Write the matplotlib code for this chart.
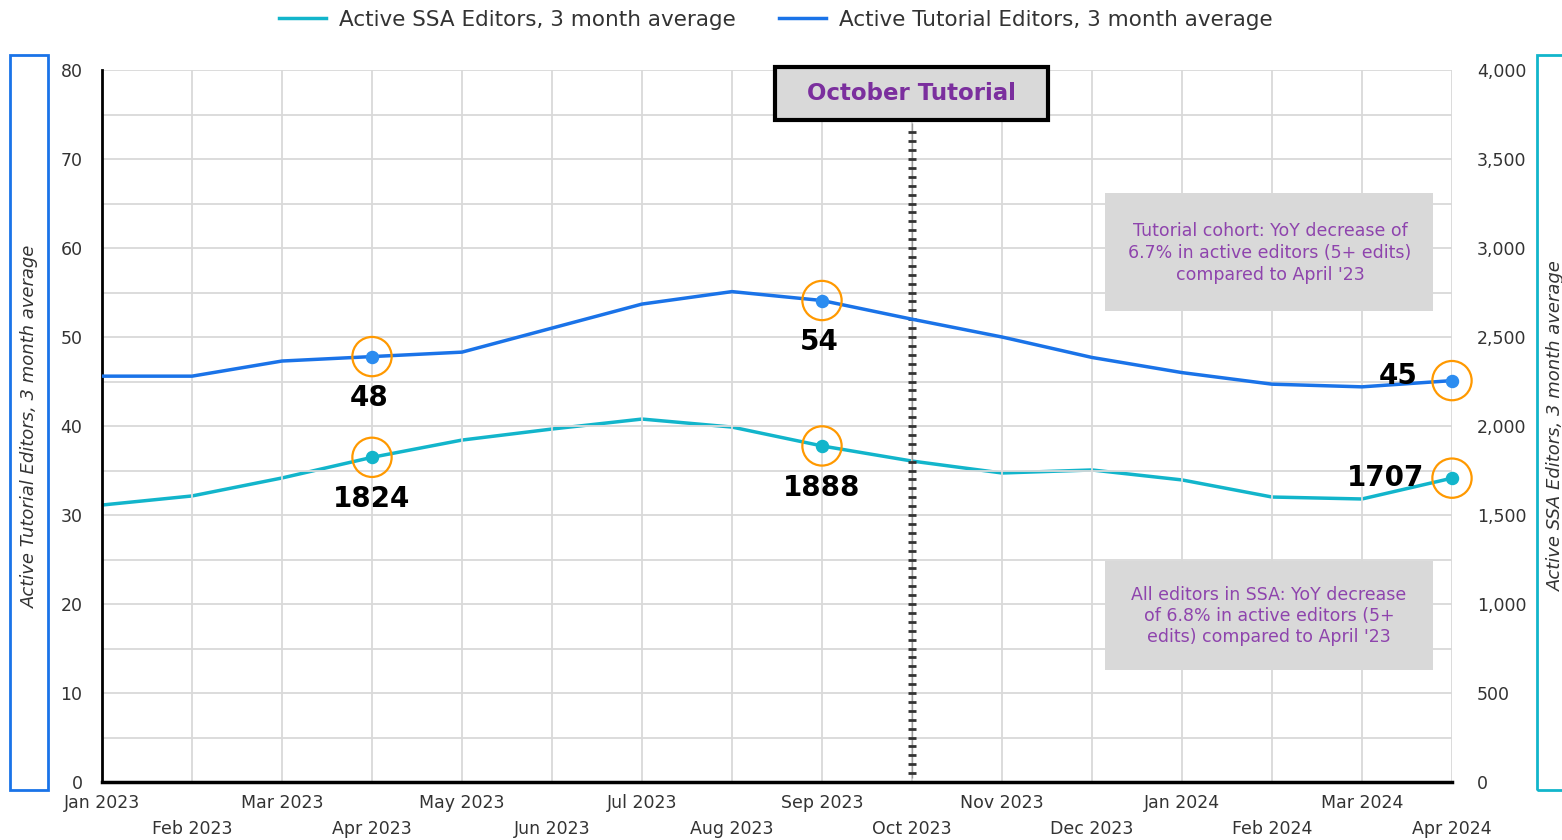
import matplotlib
matplotlib.use("Agg")
import matplotlib.pyplot as plt
import numpy as np
from matplotlib.ticker import MultipleLocator, FuncFormatter
from matplotlib.patches import Rectangle

plt.rcParams['font.family'] = ['DejaVu Sans']

months = ["Jan 2023", "Feb 2023", "Mar 2023", "Apr 2023", "May 2023", "Jun 2023",
          "Jul 2023", "Aug 2023", "Sep 2023", "Oct 2023", "Nov 2023", "Dec 2023",
          "Jan 2024", "Feb 2024", "Mar 2024", "Apr 2024"]
tutorial = [45.6, 45.6, 47.3, 47.8, 48.3, 51.0, 53.7, 55.1, 54.1, 52.0, 50.0, 47.7,
            46.0, 44.7, 44.4, 45.1]
ssa = [1556, 1607, 1708, 1824, 1921, 1983, 2039, 1994, 1888, 1803, 1736, 1753,
       1697, 1601, 1590, 1707]
highlight_idx = [3, 8, 15]
tut_labels = ["48", "54", "45"]
ssa_labels = ["1824", "1888", "1707"]

C_TUT = "#1a73e8"
C_SSA = "#12b5cb"
C_ORANGE = "#ff9900"
C_PURPLE = "#8e44ad"
C_GRID = "#d9d9d9"

fig = plt.figure(figsize=(15.62, 8.4), dpi=100)
ax = fig.add_axes([102/1562, 1-782/840, 1350/1562, 712/840])
ax2 = ax.twinx()

x = np.arange(len(months))
ax.set_xlim(0, len(months)-1)
ax.set_ylim(0, 80)
ax2.set_ylim(0, 4000)

ax.yaxis.set_major_locator(MultipleLocator(10))
ax.yaxis.set_minor_locator(MultipleLocator(5))
ax2.yaxis.set_major_locator(MultipleLocator(500))
ax2.yaxis.set_major_formatter(FuncFormatter(lambda v, p: f"{int(v):,}"))
ax.set_xticks(x)
ax.set_xticklabels([m if i % 2 == 0 else "\n" + m for i, m in enumerate(months)],
                   linespacing=1.55)
ax.grid(True, which='both', color=C_GRID, linewidth=1.3)
ax.set_axisbelow(True)
ax.tick_params(axis='both', which='both', length=0, labelsize=12.5, colors="#333333", pad=14)
ax.tick_params(axis='x', pad=9)
ax2.tick_params(axis='y', length=0, labelsize=12.5, colors="#333333", pad=18)

for s in ['top', 'right']:
    ax.spines[s].set_visible(False)
for s in ['top', 'right', 'left', 'bottom']:
    ax2.spines[s].set_visible(False)
ax.spines['left'].set_color('black')
ax.spines['left'].set_linewidth(2)
ax.spines['bottom'].set_color('black')
ax.spines['bottom'].set_linewidth(2.5)

# Vertical marker line at October
oct_i = months.index("Oct 2023")
ax.vlines(oct_i, 0.5, 74, color="#999999", linewidth=1, zorder=3)
ax.scatter(np.full(73, oct_i), np.arange(1, 74), marker='_', s=30, color="#333333",
           linewidths=2, zorder=3)

l2, = ax2.plot(x, ssa, color=C_SSA, linewidth=2.5, zorder=4,
               label="Active SSA Editors, 3 month average")
l1, = ax.plot(x, tutorial, color=C_TUT, linewidth=2.5, zorder=4,
              label="Active Tutorial Editors, 3 month average")
ax.set_zorder(ax2.get_zorder() + 1)
ax.patch.set_visible(False)

for k, i in enumerate(highlight_idx):
    for yv, col in ((tutorial[i], "#2b8cf0"), (ssa[i] / 50, C_SSA)):
        ax.scatter([x[i]], [yv], s=75, color=col, zorder=6, clip_on=False)
        ax.scatter([x[i]], [yv], s=800, facecolor='none', edgecolor=C_ORANGE,
                   linewidths=1.6, zorder=6, clip_on=False)
    if i == len(months) - 1:
        ax.annotate(tut_labels[k], (x[i], tutorial[i]), xytext=(-25, 3), textcoords='offset points',
                    ha='right', va='center', fontsize=20, fontweight='bold', zorder=7)
        ax.annotate(ssa_labels[k], (x[i], ssa[i] / 50), xytext=(-20, 0), textcoords='offset points',
                    ha='right', va='center', fontsize=20, fontweight='bold', zorder=7)
    else:
        ax.annotate(tut_labels[k], (x[i], tutorial[i]), xytext=(-2, -30), textcoords='offset points',
                    ha='center', va='center', fontsize=20, fontweight='bold', zorder=7)
        ax.annotate(ssa_labels[k], (x[i], ssa[i] / 50), xytext=(0, -30), textcoords='offset points',
                    ha='center', va='center', fontsize=20, fontweight='bold', zorder=7)

# October Tutorial box
fig.patches.append(Rectangle((775/1562, 1-120/840), 273/1562, 53/840, transform=fig.transFigure,
                             facecolor="#d9d9d9", edgecolor="black", linewidth=3, zorder=5))
fig.text(911/1562, 1-94/840, "October Tutorial", ha='center', va='center', fontsize=16.5,
         fontweight='bold', color="#7b2f9e", zorder=6)

# Annotation boxes
fig.patches.append(Rectangle((1105/1562, 1-311/840), 328/1562, 118/840, transform=fig.transFigure,
                             facecolor="#d9d9d9", edgecolor='none', zorder=5))
fig.text(1270/1562, 1-253/840,
         "Tutorial cohort: YoY decrease of\n6.7% in active editors (5+ edits)\ncompared to April '23",
         ha='center', va='center', fontsize=12.5, color=C_PURPLE, linespacing=1.25, zorder=6)
fig.patches.append(Rectangle((1105/1562, 1-670/840), 328/1562, 109/840, transform=fig.transFigure,
                             facecolor="#d9d9d9", edgecolor='none', zorder=5))
fig.text(1269/1562, 1-616/840,
         "All editors in SSA: YoY decrease\nof 6.8% in active editors (5+\nedits) compared to April '23",
         ha='center', va='center', fontsize=12.5, color=C_PURPLE, linespacing=1.25, zorder=6)

# Axis label boxes
fig.patches.append(Rectangle((10/1562, 1-790/840), 38/1562, 735/840, transform=fig.transFigure,
                             facecolor='none', edgecolor=C_TUT, linewidth=2, zorder=5))
fig.text(30/1562, 1-426/840, "Active Tutorial Editors, 3 month average", rotation=90,
         ha='center', va='center', fontsize=13, style='italic', color="#333333")
fig.patches.append(Rectangle((1537/1562, 1-790/840), 40/1562, 735/840, transform=fig.transFigure,
                             facecolor='none', edgecolor=C_SSA, linewidth=2, zorder=5))
fig.text(1556/1562, 1-426/840, "Active SSA Editors, 3 month average", rotation=90,
         ha='center', va='center', fontsize=13, style='italic', color="#333333")

fig.legend(handles=[l2, l1], loc='center', bbox_to_anchor=(776/1562, 1-20/840), ncol=2,
           frameon=False, fontsize=15.5, handlelength=2.2, columnspacing=2.0,
           handletextpad=0.6, labelcolor="#333333")

fig.savefig("out.png", dpi=100)
